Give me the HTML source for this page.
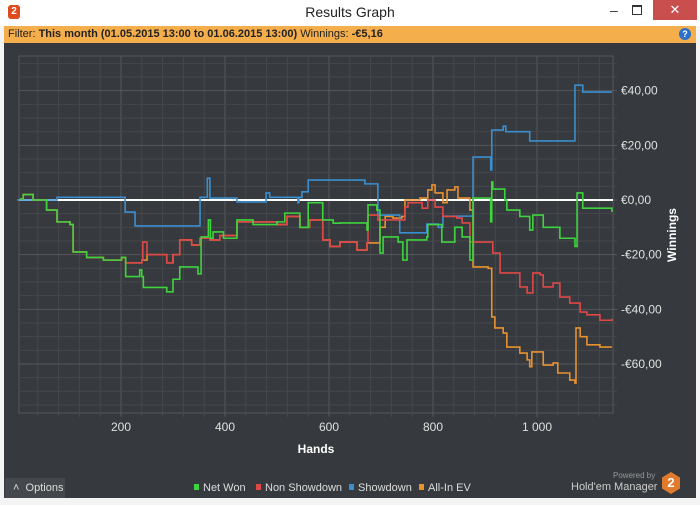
<!DOCTYPE html>
<html><head><meta charset="utf-8"><style>
body{margin:0;width:700px;height:505px;background:#f4f4f4;font-family:"Liberation Sans",sans-serif;overflow:hidden;position:relative}
.t{position:absolute}
</style></head><body>
<div class="t" style="left:0;top:0;width:700px;height:26px;background:#fff"></div>
<div class="t" style="left:8px;top:5px;width:12px;height:14px;background:#e04a1f;border-radius:3px;color:#fff;font-size:10px;font-weight:bold;text-align:center;line-height:14px">2</div>
<div class="t" style="left:0;top:4px;width:700px;text-align:center;font-size:14px;color:#222">Results Graph</div>
<div class="t" style="left:610px;top:2px;width:12px;color:#333;font-size:14px">–</div>
<div class="t" style="left:632px;top:5px;width:8px;height:7px;border:1.5px solid #333;border-top-width:2.5px"></div>
<div class="t" style="left:653px;top:0;width:44px;height:20px;background:#c94f4f;color:#fff;text-align:center;font-size:13px;line-height:20px">✕</div>
<div class="t" style="left:4px;top:26px;width:692px;height:17px;background:#f5ae4c;font-size:11px;line-height:17px;color:#222;padding-left:4px;box-sizing:border-box">Filter: <b>This month (01.05.2015 13:00 to 01.06.2015 13:00)</b> Winnings: <b>-€5,16</b></div>
<div class="t" style="left:679px;top:28px;width:12px;height:12px;border-radius:6px;background:#2a6fc9;color:#fff;font-size:9px;font-weight:bold;text-align:center;line-height:12px">?</div>
<div class="t" style="left:4px;top:43px;width:692px;height:455px;background:#36393d"></div>
<svg class="t" style="left:0;top:0" width="700" height="505" id="svg"></svg>
<div class="t" style="left:5px;top:478px;width:60px;height:20px;background:#44474b;color:#ddd;font-size:11px;line-height:20px;padding-left:8px;box-sizing:border-box">˄ &nbsp;Options</div>
<div class="t" style="left:613px;top:471px;font-size:8px;color:#999">Powered by</div>
<div class="t" style="left:571px;top:481px;font-size:11px;color:#ccc">Hold'em Manager</div>
<div class="t" style="left:662px;top:472px;width:18px;height:22px;background:#e07a2c;clip-path:polygon(50% 0,100% 25%,100% 75%,50% 100%,0 75%,0 25%);color:#fff;font-weight:bold;font-size:13px;text-align:center;line-height:22px">2</div>
<script>
const hands=[6,12,31,57,77,102,108,134,166,201,209,236,240,243,288,300,313,348,354,368,372,377,397,423,454,500,515,544,560,588,608,621,673,675,692,698,704,733,742,750,788,790,810,817,842,856,871,877,906,911,913,915,938,942,967,986,992,1006,1012,1031,1044,1073,1077,1088,1115,1144];
const netWon=[0.4,2,0,-3.7,-8,-9,-19,-21,-22,-21,-28,-25.6,-28,-32,-33.6,-29,-24.5,-27,-13.5,-7.3,-14,-11.7,-14,-7.3,-9,-8,-4.8,-10,-1,-7.3,-8.5,-8.4,-11,-1.8,-3.7,-19.4,-13.5,-15.4,-22,-14.6,-13.5,-9,-9,-15.4,-10,-13.5,-22,0.7,0.7,-8,6.6,4,0,-3.7,-6,-11,-5.5,-5.5,-10,-10,-14,-17,2.6,-3,-3,-4.4];
const nsHands=[6,12,31,57,77,102,108,134,166,201,209,240,242,250,288,300,313,336,352,371,390,423,454,500,519,544,563,588,602,621,654,673,675,694,717,746,752,779,790,804,819,846,856,865,871,904,915,929,967,981,992,1006,1012,1031,1044,1063,1083,1096,1121,1144];
const nonShowdown=[0.4,2,0,-3.7,-8,-9,-19,-21,-22,-21,-23,-22,-15.4,-20,-23,-20,-14.6,-16.5,-14,-14.6,-13,-8,-8,-9,-6,-10,-7.3,-14.6,-17,-15.4,-18.3,-15.7,-5.5,-7.3,-7.3,-2.6,-1,-3,0,-2.6,-6,-6.6,-8.4,-8.4,-15.4,-15.4,-19.4,-26.7,-31.8,-34,-26.7,-27.4,-31.8,-30.4,-35.5,-37.7,-41,-42,-44,-43.5];
const sdHands=[0,77,208,227,352,363,366,371,423,479,486,540,542,548,560,669,694,723,736,788,810,812,819,877,911,913,935,940,986,1073,1088,1144];
const showdown=[0,1,-4.4,-9.5,1,1,8,0.7,-0.7,2.6,1,-1,1,3,7.3,5.9,-5.5,-5.5,-12,-8.8,-10,-10,-5.9,15.7,11,25.6,27,25,21.6,42,39.5,39.5];
const evHands=[6,12,31,57,77,102,108,134,166,201,209,240,250,288,300,313,336,352,371,390,423,454,500,519,544,563,588,602,621,654,673,698,708,723,740,746,775,790,798,804,817,819,827,842,848,867,871,877,906,913,919,935,942,967,981,986,990,1006,1012,1031,1040,1063,1073,1075,1083,1096,1121,1144];
const allInEV=[0.4,2,0,-3.7,-8,-9,-19,-21,-22,-21,-23,-22,-20,-23,-20,-14.6,-16.5,-14,-14.6,-13,-8,-8,-9,-6,-10,-7.3,-14.6,-17,-15.4,-18.3,-15.7,-10,-6,-6.6,-6,0,0.7,3.7,5.5,2.6,2.6,-1,3.7,4.8,0.7,0.7,-3.7,-24.5,-25,-42.8,-46.8,-48.7,-53.8,-56,-58.5,-61,-55.6,-55.6,-60.4,-59.6,-63.3,-65.9,-67,-46.8,-50,-53,-53.8,-53.8];
const xTicks=[200,400,600,800,1000];
const xTickLabels=["200","400","600","800","1 000"];
const yTicks=[40,20,0,-20,-40,-60];
const yTickLabels=["€40,00","€20,00","€0,00","-€20,00","-€40,00","-€60,00"];

const L=19,R=613,T=56,B=413;
const X=h=>17+h*0.52, Y=v=>200-v*2.733;
const svg=document.getElementById('svg');const NS='http://www.w3.org/2000/svg';
function mk(tag,a){const e=document.createElementNS(NS,tag);for(const k in a)e.setAttribute(k,a[k]);svg.appendChild(e);return e;}
let r=mk('rect',{x:L,y:T,width:R-L,height:B-T,fill:'#36393d',stroke:'#55585c'});


for(let h=40;X(h)<R;h+=40){const l=mk('line',{x1:X(h),x2:X(h),y1:T,y2:B+4,stroke:h%200==0?'#55585c':'#45484c'});

}
for(let v=-80;v<=55;v+=5){const y=Y(v);if(y<T||y>B)continue;const l=mk('line',{x1:L,x2:R+4,y1:y,y2:y,stroke:v%20==0?'#55585c':'#45484c'});

}
xTicks.forEach((h,i)=>{const t=mk('text',{x:X(h),y:431,fill:'#e0e0e0','font-size':12,'text-anchor':'middle'});t.textContent=xTickLabels[i];

});
yTicks.forEach((v,i)=>{const t=mk('text',{x:621,y:Y(v)+4,fill:'#e0e0e0','font-size':12});t.textContent=yTickLabels[i];

});
let xt=mk('text',{x:316,y:453,fill:'#fff','font-size':12,'font-weight':'bold','text-anchor':'middle'});xt.textContent='Hands';


let yt=mk('text',{x:0,y:0,fill:'#fff','font-size':12,'font-weight':'bold','text-anchor':'middle',transform:'translate(676,235) rotate(-90)'});yt.textContent='Winnings';


let z=mk('line',{x1:L,x2:R,y1:Y(0),y2:Y(0),stroke:'#fff','stroke-width':2});


function series(hs,vs,c,name){let pts=[];hs.forEach((h,i)=>{if(i>0)pts.push(X(h)+','+Y(vs[i-1]));pts.push(X(h)+','+Y(vs[i]));});
const p=mk('polyline',{points:pts.join(' '),fill:'none',stroke:c,'stroke-width':1.6});

}
series(evHands,allInEV,'#e8922e','all-in-ev-line');
series(sdHands,showdown,'#3a8fd0','showdown-line');
series(nsHands,nonShowdown,'#e04848','non-showdown-line');
series(hands,netWon,'#3ed43e','net-won-line');
const leg=[['Net Won','#3ed43e',194],['Non Showdown','#e04848',256],['Showdown','#3a8fd0',349],['All-In EV','#e8922e',419]];
leg.forEach(([n,c,x])=>{const g=mk('g',{});


const s=document.createElementNS(NS,'rect');s.setAttribute('x',x);s.setAttribute('y',484);s.setAttribute('width',5);s.setAttribute('height',6);s.setAttribute('fill',c);g.appendChild(s);
const t=document.createElementNS(NS,'text');t.setAttribute('x',x+9);t.setAttribute('y',491);t.setAttribute('fill','#ddd');t.setAttribute('font-size',11);t.textContent=n;g.appendChild(t);});
</script>
</body></html>
